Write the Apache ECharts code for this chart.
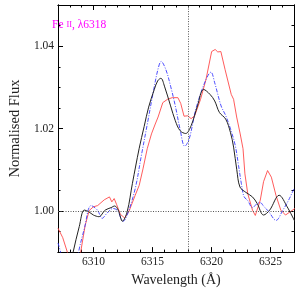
<!DOCTYPE html>
<html><head><meta charset="utf-8">
<script src="https://cdn.jsdelivr.net/npm/echarts@6/dist/echarts.min.js"></script>
<style>html,body{margin:0;padding:0;background:#fff}#c{width:300px;height:292px}</style>
</head><body><div id="c"></div>
<script>
const xMajorTicks = [6310, 6315, 6320, 6325];
const yMajorTicks = [1.00, 1.02, 1.04];
const refWavelength = [6318];
const refFlux = [1.00];

const blackWl = [6307.6,6308.28,6308.8,6309.22,6309.6,6310.0,6310.46,6311.0,6311.5,6311.8,6312.1,6312.46,6312.86,6313.3,6313.88,6314.3,6314.68,6315.16,6315.45,6315.72,6316.02,6316.54,6316.94,6317.34,6317.82,6318.28,6318.82,6319.34,6319.88,6320.28,6320.68,6321.21,6321.61,6321.88,6322.15,6322.42,6322.92,6323.48,6323.88,6324.42,6324.94,6325.74,6326.42,6327.08];
const blackFlux = [0.981,0.990,0.9962,1.0002,0.9998,0.9990,0.9986,1.0002,1.0008,1.0012,1.0002,0.9975,0.9998,1.0066,1.0152,1.0205,1.0252,1.0295,1.0316,1.0322,1.0303,1.0255,1.0219,1.0195,1.0188,1.0207,1.0255,1.0295,1.0283,1.0267,1.0239,1.0223,1.0191,1.0155,1.0100,1.0058,1.0045,1.0034,1.0018,0.9990,1.0002,1.0038,1.0010,0.9974];

const blueWl = [6307.0,6307.3,6307.9,6308.4,6308.74,6309.24,6309.8,6310.34,6310.74,6311.14,6311.66,6312.04,6312.34,6312.52,6312.86,6313.54,6314.06,6314.6,6315.1,6315.48,6315.74,6316.14,6316.54,6316.94,6317.34,6317.74,6318.12,6318.68,6319.48,6319.96,6320.28,6320.82,6321.22,6321.62,6322.02,6322.3,6322.54,6322.76,6323.08,6323.48,6323.88,6324.14,6324.44,6324.84,6325.48,6326.04,6326.54,6327.0];
const blueFlux = [0.9922,0.989,0.980,0.984,0.990,0.9958,1.0013,1.0002,0.9982,0.9994,1.0006,1.0001,0.9982,0.9975,0.9990,1.0054,1.0134,1.0216,1.0293,1.0345,1.0363,1.0343,1.0303,1.0255,1.0199,1.0157,1.0175,1.0247,1.0315,1.0337,1.0311,1.0255,1.0231,1.0199,1.0159,1.0110,1.0066,1.0035,1.0025,1.0008,1.0018,1.0020,1.0011,0.9999,0.9977,1.0001,1.0026,1.0054];

const redWl = [6307.0,6307.4,6307.9,6308.3,6308.92,6309.3,6309.64,6310.0,6310.36,6310.92,6311.36,6311.56,6311.76,6311.96,6312.28,6312.64,6313.0,6313.54,6313.88,6314.2,6314.56,6314.92,6315.24,6315.48,6315.88,6316.28,6316.68,6317.16,6317.4,6317.68,6318.0,6318.28,6318.58,6319.08,6319.54,6320.02,6320.32,6320.54,6320.8,6321.16,6321.68,6321.88,6322.14,6322.44,6322.68,6322.84,6323.08,6323.48,6323.72,6324.14,6324.42,6324.76,6325.08,6325.48,6325.88,6326.28,6326.68,6327.08];
const redFlux = [0.9958,0.9935,0.9890,0.984,0.990,0.9965,1.0001,1.0010,1.0013,1.0027,1.0034,1.0022,1.0030,1.0016,0.9992,0.9983,0.9998,1.0038,1.0062,1.0102,1.0151,1.0187,1.0211,1.0228,1.0263,1.0271,1.0275,1.0275,1.0261,1.0230,1.0231,1.0224,1.0231,1.0271,1.0319,1.0387,1.0392,1.0386,1.0387,1.0343,1.0283,1.0271,1.0228,1.0187,1.0151,1.0090,1.0042,1.0002,0.9989,1.0026,1.0071,1.0098,1.0082,1.0037,1.0002,0.9990,0.9998,1.0006];

const zip = (a, b) => a.map((v, i) => [v, b[i]]);
const FONT = 'Liberation Serif';
const axisLine = {show: true, onZero: false, lineStyle: {color: '#000', width: 1}};

function xAx(pos, major, showLabel) {
  const o = {
    type: 'value', min: 6307, max: 6327, position: pos,
    axisLine: axisLine, splitLine: {show: false},
    axisTick: {show: true, inside: true, length: major ? 5 : 2.5, lineStyle: {color: '#000', width: 1}},
    axisLabel: {show: false}
  };
  if (major) {
    o.axisTick.customValues = xMajorTicks;
    o.axisLabel = {show: showLabel, customValues: xMajorTicks, fontFamily: FONT, fontSize: 11.5, color: '#222', margin: 4,
      formatter: v => String(Math.round(v))};
  } else {
    o.interval = 1;
  }
  if (showLabel) {
    o.name = 'Wavelength (Å)';
    o.nameLocation = 'middle';
    o.nameGap = 17;
    o.nameTextStyle = {fontFamily: FONT, fontSize: 14, color: '#222'};
  }
  return o;
}
function yAx(pos, major, showLabel) {
  const o = {
    type: 'value', min: 0.99, max: 1.05, position: pos,
    axisLine: axisLine, splitLine: {show: false},
    axisTick: {show: true, inside: true, length: major ? 5 : 2.5, lineStyle: {color: '#000', width: 1}},
    axisLabel: {show: false}
  };
  if (major) {
    o.axisTick.customValues = yMajorTicks;
    o.axisLabel = {show: showLabel, customValues: yMajorTicks, fontFamily: FONT, fontSize: 11.5, color: '#222', margin: 4,
      formatter: v => Number(v).toFixed(2)};
  } else {
    o.interval = 0.005;
  }
  if (showLabel) {
    o.name = 'Normalised Flux';
    o.nameLocation = 'middle';
    o.nameGap = 29;
    o.nameTextStyle = {fontFamily: FONT, fontSize: 14.5, color: '#222'};
  }
  return o;
}

const chart = echarts.init(document.getElementById('c'), null, {renderer: 'canvas'});
chart.setOption({
  animation: false,
  backgroundColor: '#fff',
  grid: {left: 44, right: 6, top: 5, bottom: 38, containLabel: false},
  xAxis: [xAx('bottom', true, true), xAx('bottom', false, false), xAx('top', true, false), xAx('top', false, false)],
  yAxis: [yAx('left', true, true), yAx('left', false, false), yAx('right', true, false), yAx('right', false, false)],
  graphic: [{
    type: 'text', left: 52, top: 19,
    style: {
      text: '{a|Fe }{b|II}{a|, λ6318}',
      rich: {
        a: {fontFamily: FONT, fontSize: 11.5, fill: '#ff00ff'},
        b: {fontFamily: FONT, fontSize: 8.5, fill: '#ff00ff'}
      }
    }
  }],
  series: [
    {
      type: 'line', xAxisIndex: 0, yAxisIndex: 0, data: zip(redWl, redFlux),
      showSymbol: false, smooth: false, clip: true,
      lineStyle: {color: '#ff4a4a', width: 0.9}, z: 2
    },
    {
      type: 'line', xAxisIndex: 0, yAxisIndex: 0, data: zip(blueWl, blueFlux),
      showSymbol: false, smooth: 0.35, clip: true,
      lineStyle: {color: '#3a3aff', width: 0.9, type: [4, 1.5, 1, 1.5]}, z: 3
    },
    {
      type: 'line', xAxisIndex: 0, yAxisIndex: 0, data: zip(blackWl, blackFlux),
      showSymbol: false, smooth: 0.35, clip: true,
      lineStyle: {color: '#222', width: 1}, z: 4,
      markLine: {
        silent: true, symbol: ['none', 'none'], label: {show: false},
        lineStyle: {color: '#555', width: 1, type: [1, 1.5]},
        data: [...refWavelength.map(v => ({xAxis: v})), ...refFlux.map(v => ({yAxis: v}))]
      }
    }
  ]
});
</script></body></html>
